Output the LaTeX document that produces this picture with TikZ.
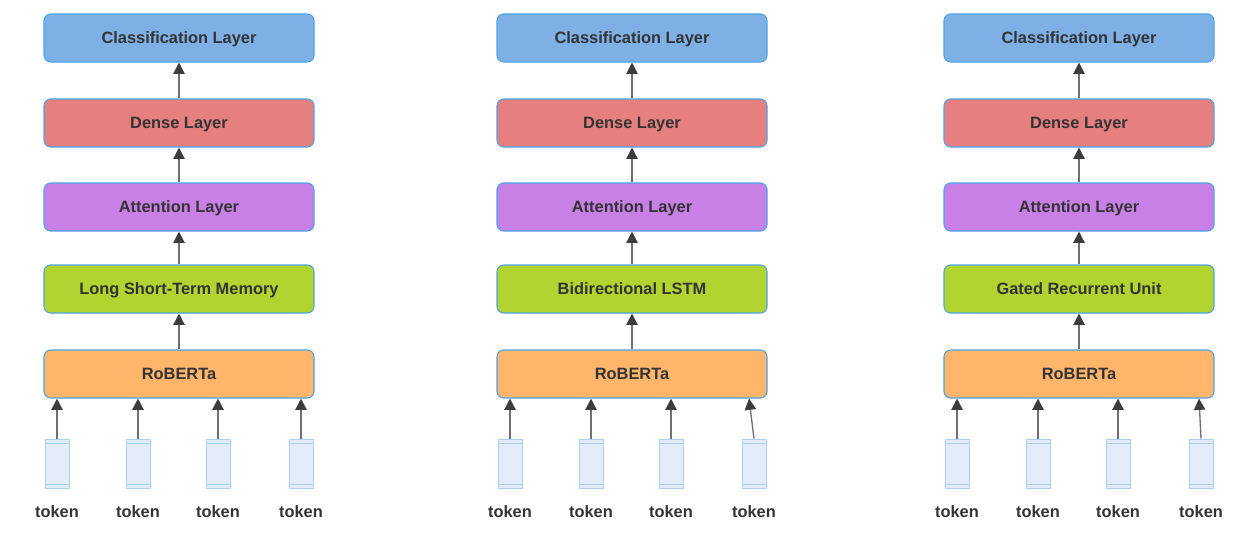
\documentclass[tikz,border=0pt]{standalone}
\usepackage{fontspec}
\setmainfont{Liberation Sans}
\usetikzlibrary{arrows.meta}

\definecolor{clsblue}{HTML}{7EB0E5}
\definecolor{densered}{HTML}{E68080}
\definecolor{attpurple}{HTML}{C880E6}
\definecolor{rnngreen}{HTML}{B2D430}
\definecolor{roborange}{HTML}{FFB66B}
\definecolor{edgeblue}{HTML}{4BA3EA}
\definecolor{tokfill}{HTML}{E3ECF8}
\definecolor{tokedge}{HTML}{A8D0F5}
\definecolor{txtgray}{HTML}{333333}
\definecolor{linegray}{HTML}{707070}
\definecolor{headgray}{HTML}{3C3C3C}

\begin{document}
\begin{tikzpicture}[
    x=0.75pt, y=-0.75pt,
    layer/.style={draw=edgeblue, line width=0.8pt, rounded corners=5pt,
        minimum width=202.5pt, minimum height=36pt, inner sep=0pt,
        text height=8.9pt, text depth=0pt,
        text=txtgray, font=\fontsize{12.3}{14}\selectfont\bfseries},
    tok/.style={draw=tokedge, fill=tokfill, line width=0.6pt,
        minimum width=18pt, minimum height=36.75pt, inner sep=0pt,
        path picture={
            \draw[tokedge, line width=0.5pt]
                ([yshift=-3.2pt]path picture bounding box.north west) -- ([yshift=-3.2pt]path picture bounding box.north east)
                ([yshift=2.4pt]path picture bounding box.south west) -- ([yshift=2.4pt]path picture bounding box.south east);
        }},
    toklabel/.style={text=txtgray, inner sep=1pt, text height=8.9pt, text depth=0pt,
        font=\fontsize{12.3}{14}\selectfont\bfseries},
    flow/.style={draw=linegray, line width=1pt, -{Triangle[length=8.5pt,width=8.5pt,color=headgray]}}
]
\useasboundingbox (0,0) rectangle (1251,532);

% Three model columns
\foreach \cx/\rnn/\m/\dx in {179/{Long Short-Term Memory}/a/0, 632/{Bidirectional LSTM}/b/-5, 1079/{Gated Recurrent Unit}/c/-2} {
    % Layer stack
    \node[layer, fill=clsblue] (cls-\m) at (\cx,38) {Classification Layer};
    \node[layer, fill=densered] (dense-\m) at (\cx,123) {Dense Layer};
    \node[layer, fill=attpurple] (att-\m) at (\cx,207) {Attention Layer};
    \node[layer, fill=rnngreen] (rnn-\m) at (\cx,289) {\rnn};
    \node[layer, fill=roborange] (rob-\m) at (\cx,374) {RoBERTa};

    % Arrows between layers
    \draw[flow] (rob-\m.north) -- (rnn-\m.south);
    \draw[flow] (rnn-\m.north) -- (att-\m.south);
    \draw[flow] (att-\m.north) -- (dense-\m.south);
    \draw[flow] (dense-\m.north) -- (cls-\m.south);

    % Tokens
    \foreach \tx [count=\i] in {-122,-41,39,122} {
        \node[tok] (tok-\m-\i) at (\cx+\tx,463.5) {};
        \node[toklabel] (lab-\m-\i) at (\cx+\tx,511.5) {token};
    }
    \foreach \i in {1,2,3} {
        \draw[flow] (tok-\m-\i.north) -- (tok-\m-\i.north |- rob-\m.south);
    }
    \draw[flow] (tok-\m-4.north) -- ([xshift=\dx*0.75pt]tok-\m-4.north |- rob-\m.south);
}

\end{tikzpicture}
\end{document}
